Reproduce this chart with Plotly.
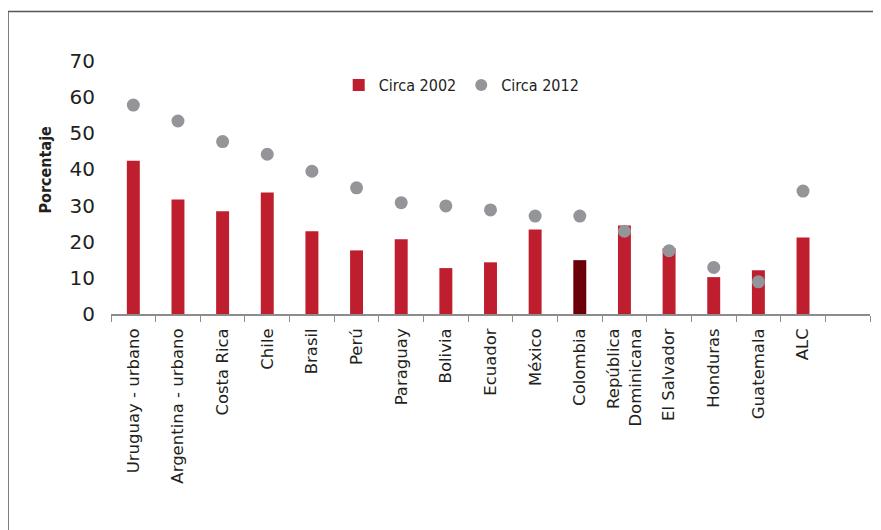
import plotly.graph_objects as go

categories = ["Uruguay - urbano", "Argentina - urbano", "Costa Rica", "Chile", "Brasil",
              "Perú", "Paraguay", "Bolivia", "Ecuador", "México", "Colombia",
              "República<br>Dominicana", "El Salvador", "Honduras", "Guatemala", "ALC", " "]
circa_2002 = [42.4, 31.7, 28.4, 33.6, 22.9, 17.6, 20.7, 12.7, 14.3, 23.4, 14.9,
              24.5, 18.2, 10.2, 12.1, 21.2, None]
circa_2012 = [57.8, 53.4, 47.7, 44.2, 39.5, 34.9, 30.8, 29.9, 28.8, 27.1, 27.1,
              22.9, 17.5, 12.9, 8.9, 34.0, None]
y_ticks = [0, 10, 20, 30, 40, 50, 60, 70]

RED = "#BE1E2D"
DARK = "#6B0008"
GRAY = "#939598"
bar_colors = [DARK if c == "Colombia" else RED for c in categories]

fig = go.Figure()
fig.add_trace(go.Bar(x=categories, y=circa_2002, name="Circa 2002",
                     marker=dict(color=bar_colors, line=dict(width=0)), width=0.29))
fig.add_trace(go.Scatter(x=categories, y=circa_2012, name="Circa 2012", mode="markers",
                         marker=dict(color=GRAY, size=13, line=dict(width=0))))

fig.update_layout(
    width=873, height=522,
    margin=dict(l=103, r=11, t=53, b=216),
    paper_bgcolor="white", plot_bgcolor="white",
    font=dict(family="DejaVu Sans", color="#231F20"),
    showlegend=True,
    legend=dict(orientation="h", x=0.30, y=0.905, xanchor="left", yanchor="middle",
                font=dict(family="DejaVu Sans Condensed", size=16, color="#231F20"),
                bgcolor="rgba(0,0,0,0)", itemsizing="constant", tracegroupgap=0),
    bargap=0.7,
    xaxis=dict(type="category", range=[-0.5, 16.5], showline=True, linecolor="#8C8C8C",
               linewidth=1.5, ticks="outside", tickson="boundaries", ticklen=6,
               tickcolor="#8C8C8C", tickwidth=1.2, tickangle=-90, ticklabelstandoff=6,
               tickfont=dict(family="DejaVu Sans", size=16.5, color="#231F20"),
               showgrid=False, zeroline=False),
    yaxis=dict(range=[0, 70], tickvals=y_ticks, showgrid=False, zeroline=False,
               showline=False, ticks="", ticklabelstandoff=15,
               tickfont=dict(family="DejaVu Sans", size=20, color="#231F20")),
    annotations=[dict(text="<b>Porcentaje</b>", x=-0.086, y=0.57, xref="paper", yref="paper",
                      textangle=-90, showarrow=False, xanchor="center", yanchor="middle",
                      font=dict(family="DejaVu Sans Condensed", size=16, color="#231F20"))],
    shapes=[
        dict(type="line", xref="paper", yref="paper", x0=-0.1357, x1=-0.1357, y0=1.196, y1=-0.95,
             line=dict(color="#555555", width=1.5)),
        dict(type="line", xref="paper", yref="paper", x0=-0.1357, x1=1.05, y0=1.196, y1=1.196,
             line=dict(color="#555555", width=1.5)),
    ],
)

fig.write_html("out.html")
